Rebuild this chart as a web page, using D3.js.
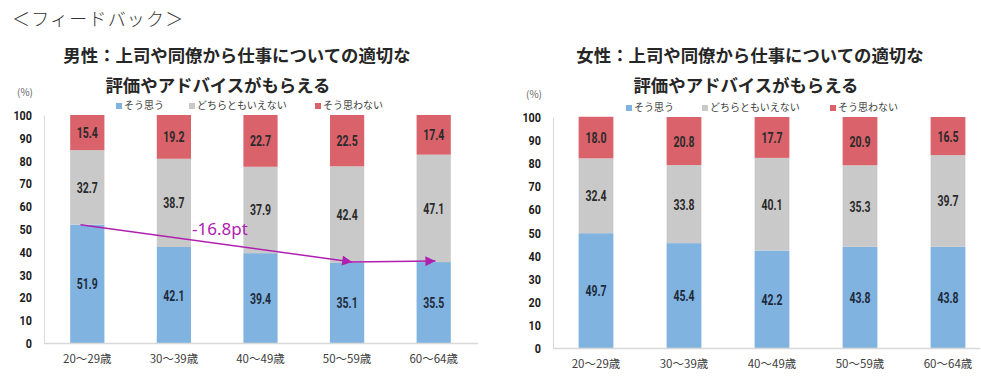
<!DOCTYPE html>
<html><head><meta charset="utf-8">
<script src="https://cdn.jsdelivr.net/npm/d3@7"></script>
<style>
html,body{margin:0;padding:0;background:#fff;}
svg{display:block;}
</style></head>
<body>
<svg id="c" width="981" height="381"></svg>
<script>
const categories = ["20～29歳","30～39歳","40～49歳","50～59歳","60～64歳"];
const seriesNames = ["そう思う","どちらともいえない","そう思わない"];
const maleAgree = [51.9,42.1,39.4,35.1,35.5];
const maleNeutral = [32.7,38.7,37.9,42.4,47.1];
const maleDisagree = [15.4,19.2,22.7,22.5,17.4];
const femaleAgree = [49.7,45.4,42.2,43.8,43.8];
const femaleNeutral = [32.4,33.8,40.1,35.3,39.7];
const femaleDisagree = [18.0,20.8,17.7,20.9,16.5];
const yTicks = [0,10,20,30,40,50,60,70,80,90,100];
const maleTitle = ["男性：上司や同僚から仕事についての適切な","評価やアドバイスがもらえる"];
const femaleTitle = ["女性：上司や同僚から仕事についての適切な","評価やアドバイスがもらえる"];
const header = "＜フィードバック＞";
const annotation = "-16.8pt";

const colors = ["#80B3E0","#C9C9C9","#D9626B"];
const svg = d3.select("#c");
const jp = "'Noto Sans CJK JP','Noto Sans',sans-serif";
const num = "Roboto,'Liberation Sans',sans-serif";

svg.append("text").attr("x",12).attr("y",26).attr("font-family",jp).attr("font-size",18)
  .attr("font-weight",300).attr("letter-spacing",1.2).attr("fill","#333").text(header);

function numText(sel, x, y, anchor, str, fill, size, sx){
  return sel.append("text").attr("transform",`translate(${x},${y}) scale(${sx},1)`)
    .attr("text-anchor",anchor).attr("font-family",num).attr("font-size",size).attr("font-weight",700)
    .attr("fill",fill).text(str);
}

function chart(cfg){
  const {x0,x1,yTop,yBot,axisX,axisEnd,title,titleX,data,legendX} = cfg;
  const g = svg.append("g");
  const x = d3.scaleBand().domain(categories).range([x0,x1]).paddingInner(0.605).paddingOuter(0.3025);
  const y = d3.scaleLinear().domain([0,100]).range([yBot,yTop]);
  title.forEach((t,i)=>{
    g.append("text").attr("x",titleX[i]).attr("y",62+i*30).attr("text-anchor","middle")
      .attr("font-family",jp).attr("font-size",17.4).attr("font-weight",700).attr("fill","#262626").text(t);
  });
  g.append("text").attr("x",axisX-27).attr("y",yTop-19).attr("font-family",jp).attr("font-size",10)
    .attr("fill","#666").text("(%)");
  seriesNames.forEach((s,i)=>{
    const lx = legendX[i];
    g.append("rect").attr("x",lx).attr("y",yTop-12).attr("width",6).attr("height",6).attr("fill",colors[i]);
    g.append("text").attr("x",lx+8).attr("y",yTop-6).attr("font-family",jp).attr("font-size",10)
      .attr("fill","#404040").text(s);
  });
  const ya = d3.axisLeft(y).tickValues(yTicks).tickSize(0).tickFormat("");
  const yg = g.append("g").attr("transform",`translate(${axisX},0)`).call(ya);
  yg.select(".domain").attr("stroke","#D9D9D9");
  yTicks.forEach(t=>numText(g, axisX-12, y(t)+5, "end", String(t), "#1a1a1a", 13.5, 0.8));
  const rows = categories.map((c,i)=>({cat:c, a:data[0][i], n:data[1][i], d:data[2][i]}));
  const stack = d3.stack().keys(["a","n","d"])(rows);
  stack.forEach((layer,li)=>{
    layer.forEach((seg,i)=>{
      const cat = categories[i];
      g.append("rect").attr("x",x(cat)).attr("width",x.bandwidth())
        .attr("y",y(seg[1])).attr("height",y(seg[0])-y(seg[1])).attr("fill",colors[li]);
      const v = seg[1]-seg[0];
      numText(g, x(cat)+x.bandwidth()/2, y((seg[0]+seg[1])/2)+5.5, "middle", v.toFixed(1), li===0?"#1e2a3a":"#2a2a2a", 15, 0.7);
    });
  });
  const xa = d3.axisBottom(x).tickSize(0).tickPadding(12);
  const xg = g.append("g").attr("transform",`translate(0,${yBot})`).call(xa);
  xg.select(".domain").remove();
  g.append("line").attr("x1",axisX).attr("x2",axisEnd).attr("y1",yBot+0.5).attr("y2",yBot+0.5).attr("stroke","#D9D9D9").attr("stroke-width",1.5);
  xg.selectAll("text").attr("font-family",jp).attr("font-size",11.5).attr("fill","#404040");
  return {x,y,g};
}

const L = chart({x0:44,x1:477,yTop:115,yBot:343,axisX:44,axisEnd:478,title:maleTitle,titleX:[237,218],
  data:[maleAgree,maleNeutral,maleDisagree],legendX:[116,189,315]});
const R = chart({x0:552,x1:992,yTop:117,yBot:348,axisX:553,axisEnd:980,title:femaleTitle,titleX:[750,746],
  data:[femaleAgree,femaleNeutral,femaleDisagree],legendX:[626,702,830]});

const mag = "#B020B0";
const defs = svg.append("defs");
defs.append("marker").attr("id","ah").attr("viewBox","0 0 10 10").attr("refX",10).attr("refY",5)
  .attr("markerWidth",12).attr("markerHeight",10).attr("markerUnits","userSpaceOnUse").attr("orient","auto")
  .append("path").attr("d","M0,0L10,5L0,10Z").attr("fill",mag);
const bx = L.x, by = L.y, bw = bx.bandwidth();
const p0 = [bx(categories[0])+bw*0.3, by(maleAgree[0])];
const p1 = [bx(categories[3])+bw*0.65, by(maleAgree[3])-1];
const p2 = [bx(categories[4])+bw*0.55, by(maleAgree[4])-1];
svg.append("line").attr("x1",p0[0]).attr("y1",p0[1]).attr("x2",p1[0]).attr("y2",p1[1])
  .attr("stroke",mag).attr("stroke-width",1.5).attr("marker-end","url(#ah)");
svg.append("line").attr("x1",p1[0]-2).attr("y1",p1[1]).attr("x2",p2[0]).attr("y2",p2[1])
  .attr("stroke",mag).attr("stroke-width",1.5).attr("marker-end","url(#ah)");
svg.append("text").attr("x",192).attr("y",235).attr("font-family","'Noto Sans',sans-serif").attr("font-size",17)
  .attr("fill",mag).text(annotation);
</script>
</body></html>
